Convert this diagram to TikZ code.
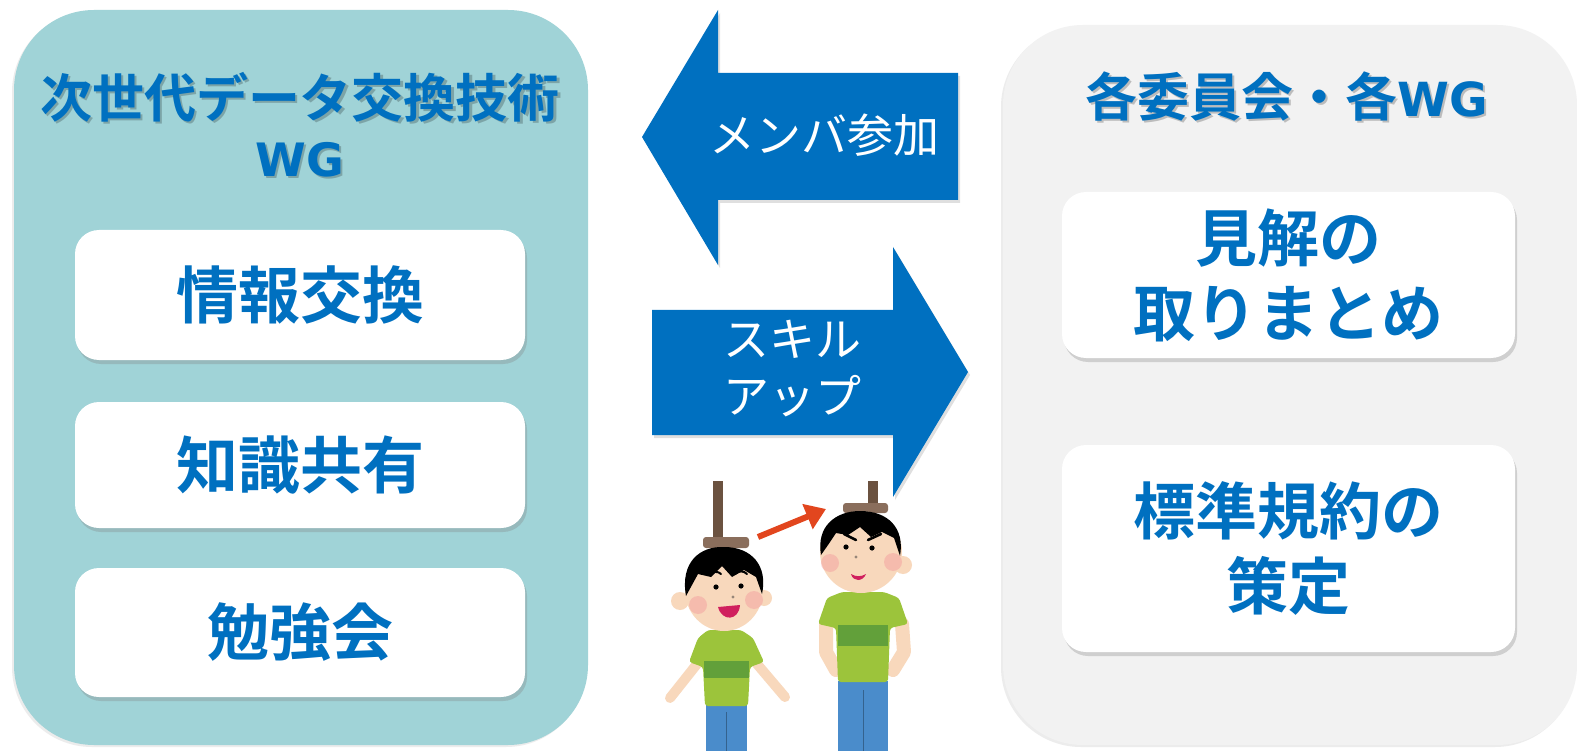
\documentclass[tikz,border=0pt]{standalone}
\usepackage{fontspec}
\setmainfont{Noto Sans CJK JP}[BoldFont={Noto Sans CJK JP Bold}]
\newfontfamily\wgfont{DejaVu Sans}[BoldFont={DejaVu Sans Bold}]
\usetikzlibrary{shadows,arrows.meta}
\definecolor{jblue}{HTML}{0070C0}
\definecolor{panelteal}{HTML}{A0D3D7}
\definecolor{panelgray}{HTML}{F2F2F2}
\definecolor{skin}{HTML}{F8D8BC}
\definecolor{shirt}{HTML}{9CC43B}
\definecolor{stripe}{HTML}{62A03A}
\definecolor{pants}{HTML}{4A8CCB}
\definecolor{pole}{HTML}{6B5240}
\definecolor{plate}{HTML}{8A6E5C}
\definecolor{redarr}{HTML}{E2461E}
\definecolor{cheek}{HTML}{F4A0A0}
\definecolor{mouthc}{HTML}{D0205E}
\begin{document}
\begin{tikzpicture}[x=1pt,y=-1pt,
  panel/.style={rounded corners=80pt, inner sep=0pt,
    drop shadow={shadow xshift=-2pt, shadow yshift=-2pt, opacity=.15}},
  card/.style={fill=white, rounded corners=24pt, inner sep=0pt, align=center,
    text=jblue, font=\bfseries\fontsize{62}{75}\selectfont,
    drop shadow={shadow xshift=2pt, shadow yshift=-4pt, opacity=.3}},
  title/.style={text=jblue, font=\bfseries\fontsize{52}{62}\selectfont, inner sep=0pt},
  tshadow/.style={text=black, opacity=.22, font=\bfseries\fontsize{52}{62}\selectfont, inner sep=0pt},
  arrowtxt/.style={text=white, font=\fontsize{46}{57}\selectfont, align=center, inner sep=0pt},
  bigarrow/.style={fill=jblue, drop shadow={shadow xshift=2pt, shadow yshift=-3pt, opacity=.25}},
  skinfill/.style={fill=skin},
  limb/.style={draw=skin, line width=10pt, line cap=round, line join=round}]
\useasboundingbox (0,0) rectangle (1577,751);
\fill[white] (0,0) rectangle (1577,751);

% ---- left panel ----
\node[panel, fill=panelteal, minimum width=574pt, minimum height=735pt] (lp) at (301,377.5) {};
\node[tshadow] (lts1) at (302,99) {次世代データ交換技術};
\node[title] (lt1) at (300,97) {次世代データ交換技術};
\node[tshadow] (lts2) at (302,162) {\wgfont\bfseries\fontsize{46}{55}\selectfont WG};
\node[title] (lt2) at (300,160) {\wgfont\bfseries\fontsize{46}{55}\selectfont WG};
\node[card, minimum width=450pt, minimum height=130pt] (c1) at (300,295) {情報交換};
\node[card, minimum width=450pt, minimum height=126pt] (c2) at (300,465) {知識共有};
\node[card, minimum width=450pt, minimum height=129pt] (c3) at (300,632.5) {勉強会};

% ---- right panel ----
\node[panel, fill=panelgray, minimum width=574pt, minimum height=720pt] (rp) at (1290,385) {};
\node[tshadow] (rts) at (1289,99) {各委員会・各{\wgfont\bfseries\fontsize{47}{55}\selectfont WG}};
\node[title] (rt) at (1287,97) {各委員会・各{\wgfont\bfseries\fontsize{47}{55}\selectfont WG}};
\node[card, minimum width=453pt, minimum height=166pt] (r1) at (1288.5,275) {見解の\\取りまとめ};
\node[card, minimum width=453pt, minimum height=207pt] (r2) at (1288.5,548.5) {標準規約の\\策定};

% ---- block arrows ----
\path[bigarrow] (642,137) -- (718,10) -- (718,73) -- (958,73) -- (958,200)
  -- (718,200) -- (718,265) -- cycle;
\node[arrowtxt] (ma) at (824,135) {メンバ参加};
\path[bigarrow] (968,372) -- (893,247) -- (893,310) -- (652,310) -- (652,435)
  -- (893,435) -- (893,497) -- cycle;
\node[arrowtxt] (sa) at (792,369) {スキル\\アップ};

% ---- smaller boy ----
\fill[pole] (713,481) rectangle (723,540);
\fill[plate, rounded corners=3pt] (703,537) rectangle (749,548);
\draw[limb] (697,664) -- (670,698);
\draw[limb] (757,664) -- (785,697);
\fill[pants] (706,702) rectangle (747,751);
\draw[pants!70!black, line width=0.8pt] (726.5,712) -- (726.5,751);
\fill[shirt, rounded corners=3pt] (708,630) -- (741,630) -- (753,638) -- (764,662)
  -- (750,667) -- (748,706) -- (705,706) -- (703,667) -- (689,662) -- (698,638) -- cycle;
\fill[stripe] (704,661) rectangle (749,678);
\fill[skinfill] (680,601) circle[radius=9pt];
\fill[skinfill] (764,598) circle[radius=8pt];
\fill[skinfill] (724,590) ellipse[x radius=39pt, y radius=41pt];
\fill[cheek, opacity=.5] (698,605) circle[radius=9pt];
\fill[cheek, opacity=.5] (754,600) circle[radius=9pt];
\fill[black] (686,596) .. controls (680,562) and (700,546) .. (724,547)
  .. controls (752,547) and (768,566) .. (762,594) -- (756,577) -- (744,570)
  -- (732,577) -- (722,566) -- (711,577) -- (698,574) -- (692,585) -- cycle;
\draw[black, line width=2pt, line cap=round] (709,575) .. controls (713,571) and (718,571) .. (721,574);
\draw[black, line width=2pt, line cap=round] (735,574) .. controls (739,570) and (744,571) .. (747,574);
\fill[black] (716,587) circle[radius=2.6pt];
\fill[black] (741,586) circle[radius=2.6pt];
\fill[pole!70] (733,597) circle[radius=1.6pt];
\fill[mouthc] (718,607) -- (740,605) .. controls (739,621) and (722,622) .. cycle;

% ---- taller boy ----
\fill[pole] (868,481) rectangle (878,504);
\fill[plate, rounded corners=3pt] (843,503) rectangle (888,513);
\draw[limb, line width=14pt] (826,624) -- (826,652) -- (836,670);
\draw[limb, line width=14pt] (902,624) -- (904,652) -- (893,670);
\fill[pants] (838,681) rectangle (888,751);
\draw[pants!70!black, line width=0.8pt] (863,690) -- (863,751);
\fill[shirt, rounded corners=3pt] (842,592) -- (884,592) -- (899,598) -- (908,624)
  -- (890,628) -- (888,682) -- (838,682) -- (836,628) -- (818,624) -- (827,598) -- cycle;
\fill[stripe] (838,625) rectangle (888,646);
\fill[skinfill] (903,565) circle[radius=9pt];
\fill[skinfill] (861,552) ellipse[x radius=41pt, y radius=41pt];
\fill[cheek, opacity=.5] (830,563) circle[radius=9pt];
\fill[cheek, opacity=.5] (893,562) circle[radius=9pt];
\fill[black] (821,555) .. controls (816,526) and (836,511) .. (860,511)
  .. controls (888,511) and (905,528) .. (900,556) -- (894,538) -- (882,532)
  -- (871,537) -- (860,527) -- (848,535) -- (836,533) -- (828,545) -- cycle;
\draw[black, line width=2.6pt, line cap=round] (844,534) -- (856,540);
\draw[black, line width=2.6pt, line cap=round] (868,540) -- (881,534);
\fill[black] (846,547) circle[radius=2.6pt];
\fill[black] (872,548) circle[radius=2.6pt];
\fill[pole!70] (856,557) circle[radius=1.6pt];
\fill[mouthc] (851,574) .. controls (853,582) and (863,582) .. (866,574)
  .. controls (861,577) and (856,577) .. cycle;

% ---- growth arrow ----
\coordinate (ga) at (758,537);
\coordinate (gb) at (826,509);
\draw[redarr, line width=6pt, -{Triangle[length=20pt,width=26pt]}] (ga) -- (gb);
\end{tikzpicture}
\end{document}
